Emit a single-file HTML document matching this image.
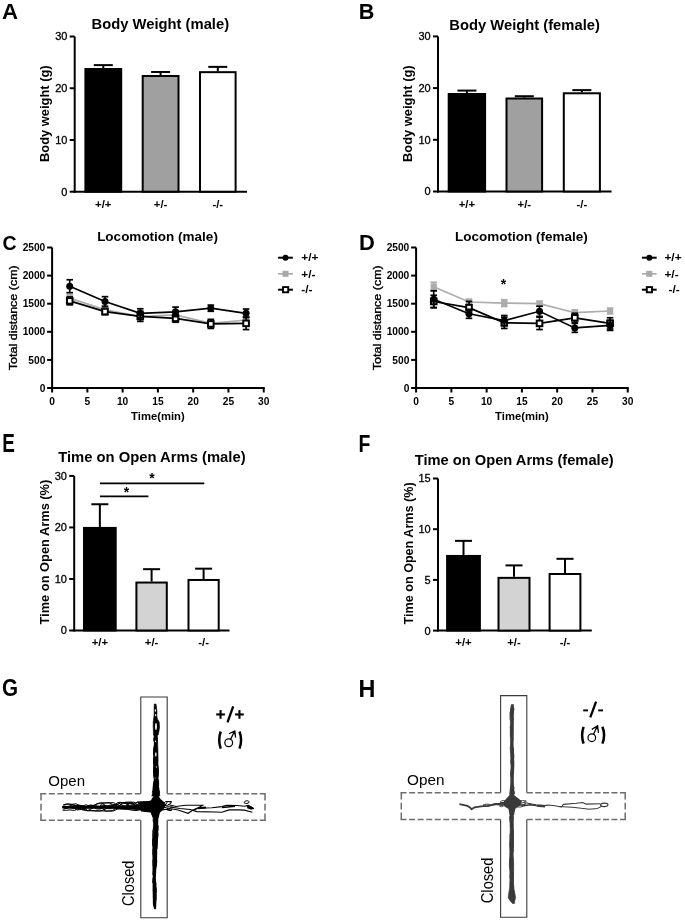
<!DOCTYPE html>
<html><head><meta charset="utf-8"><style>
html,body{margin:0;padding:0;background:#fff;}
svg{display:block;font-family:"Liberation Sans", sans-serif;will-change:transform;}
</style></head><body>
<svg width="685" height="922" viewBox="0 0 685 922">
<rect width="685" height="922" fill="#fff"/>
<line x1="74.7" y1="36.50999999999999" x2="74.7" y2="192.7" stroke="#000" stroke-width="2"/>
<line x1="73.7" y1="191.7" x2="247" y2="191.7" stroke="#000" stroke-width="2"/>
<line x1="69.7" y1="191.7" x2="74.7" y2="191.7" stroke="#000" stroke-width="2"/>
<text x="67.4" y="195.6" font-size="11" font-weight="normal" text-anchor="end" fill="#000" stroke="#000" stroke-width="0.3">0</text>
<line x1="69.7" y1="139.96999999999997" x2="74.7" y2="139.96999999999997" stroke="#000" stroke-width="2"/>
<text x="67.4" y="143.86999999999998" font-size="11" font-weight="normal" text-anchor="end" fill="#000" stroke="#000" stroke-width="0.3">10</text>
<line x1="69.7" y1="88.23999999999998" x2="74.7" y2="88.23999999999998" stroke="#000" stroke-width="2"/>
<text x="67.4" y="92.13999999999999" font-size="11" font-weight="normal" text-anchor="end" fill="#000" stroke="#000" stroke-width="0.3">20</text>
<line x1="69.7" y1="36.50999999999999" x2="74.7" y2="36.50999999999999" stroke="#000" stroke-width="2"/>
<text x="67.4" y="40.40999999999999" font-size="11" font-weight="normal" text-anchor="end" fill="#000" stroke="#000" stroke-width="0.3">30</text>
<line x1="103.30000000000001" y1="68.01356999999999" x2="103.30000000000001" y2="65.11668999999999" stroke="#000" stroke-width="2"/>
<line x1="93.80000000000001" y1="65.11668999999999" x2="112.80000000000001" y2="65.11668999999999" stroke="#000" stroke-width="2"/>
<rect x="85.4" y="69.01356999999999" width="35.8" height="122.68643" fill="#000" stroke="#000" stroke-width="2"/>
<line x1="160.6" y1="74.99712" x2="160.6" y2="71.99678" stroke="#000" stroke-width="2"/>
<line x1="151.1" y1="71.99678" x2="170.1" y2="71.99678" stroke="#000" stroke-width="2"/>
<rect x="142.7" y="75.99712" width="35.80000000000001" height="115.70288" fill="#a0a0a0" stroke="#000" stroke-width="2"/>
<line x1="217.8" y1="71.16909999999999" x2="217.8" y2="66.87550999999999" stroke="#000" stroke-width="2"/>
<line x1="208.3" y1="66.87550999999999" x2="227.3" y2="66.87550999999999" stroke="#000" stroke-width="2"/>
<rect x="200" y="72.16909999999999" width="35.599999999999994" height="119.5309" fill="#fff" stroke="#000" stroke-width="2"/>
<text x="160.3" y="29.4" font-size="14.65" font-weight="bold" text-anchor="middle" fill="#000" textLength="137.6" lengthAdjust="spacingAndGlyphs">Body Weight (male)</text>
<text x="48.8" y="113.7" font-size="13.2" font-weight="bold" text-anchor="middle" fill="#000" transform="rotate(-90 48.8 113.7)" textLength="96.6" lengthAdjust="spacingAndGlyphs">Body weight (g)</text>
<text x="103.30000000000001" y="208.2" font-size="10.5" font-weight="bold" text-anchor="middle" fill="#000" transform="translate(103.30000000000001 208.2) scale(1.08 1) translate(-103.30000000000001 -208.2)">+/+</text>
<text x="160.6" y="208.2" font-size="10.5" font-weight="bold" text-anchor="middle" fill="#000" transform="translate(160.6 208.2) scale(1.08 1) translate(-160.6 -208.2)">+/-</text>
<text x="217.8" y="208.2" font-size="10.5" font-weight="bold" text-anchor="middle" fill="#000" transform="translate(217.8 208.2) scale(1.08 1) translate(-217.8 -208.2)">-/-</text>
<line x1="438.0" y1="36.400000000000006" x2="438.0" y2="192.5" stroke="#000" stroke-width="2"/>
<line x1="437.0" y1="191.5" x2="611.6" y2="191.5" stroke="#000" stroke-width="2"/>
<line x1="433.0" y1="191.5" x2="438.0" y2="191.5" stroke="#000" stroke-width="2"/>
<text x="430.7" y="195.4" font-size="11" font-weight="normal" text-anchor="end" fill="#000" stroke="#000" stroke-width="0.3">0</text>
<line x1="433.0" y1="139.8" x2="438.0" y2="139.8" stroke="#000" stroke-width="2"/>
<text x="430.7" y="143.70000000000002" font-size="11" font-weight="normal" text-anchor="end" fill="#000" stroke="#000" stroke-width="0.3">10</text>
<line x1="433.0" y1="88.1" x2="438.0" y2="88.1" stroke="#000" stroke-width="2"/>
<text x="430.7" y="92.0" font-size="11" font-weight="normal" text-anchor="end" fill="#000" stroke="#000" stroke-width="0.3">20</text>
<line x1="433.0" y1="36.400000000000006" x2="438.0" y2="36.400000000000006" stroke="#000" stroke-width="2"/>
<text x="430.7" y="40.300000000000004" font-size="11" font-weight="normal" text-anchor="end" fill="#000" stroke="#000" stroke-width="0.3">30</text>
<line x1="466.9" y1="93.0115" x2="466.9" y2="90.58160000000001" stroke="#000" stroke-width="2"/>
<line x1="457.4" y1="90.58160000000001" x2="476.4" y2="90.58160000000001" stroke="#000" stroke-width="2"/>
<rect x="448.7" y="94.0115" width="36.400000000000034" height="97.4885" fill="#000" stroke="#000" stroke-width="2"/>
<line x1="524.3" y1="97.5094" x2="524.3" y2="96.21690000000001" stroke="#000" stroke-width="2"/>
<line x1="514.8" y1="96.21690000000001" x2="533.8" y2="96.21690000000001" stroke="#000" stroke-width="2"/>
<rect x="506.5" y="98.5094" width="35.60000000000002" height="92.9906" fill="#a0a0a0" stroke="#000" stroke-width="2"/>
<line x1="581.8499999999999" y1="92.2877" x2="581.8499999999999" y2="90.11629999999998" stroke="#000" stroke-width="2"/>
<line x1="572.3499999999999" y1="90.11629999999998" x2="591.3499999999999" y2="90.11629999999998" stroke="#000" stroke-width="2"/>
<rect x="563.8" y="93.2877" width="36.10000000000002" height="98.2123" fill="#fff" stroke="#000" stroke-width="2"/>
<text x="524.6" y="29.6" font-size="14.65" font-weight="bold" text-anchor="middle" fill="#000" textLength="150.5" lengthAdjust="spacingAndGlyphs">Body Weight (female)</text>
<text x="412.1" y="113.7" font-size="13.2" font-weight="bold" text-anchor="middle" fill="#000" transform="rotate(-90 412.1 113.7)" textLength="96.6" lengthAdjust="spacingAndGlyphs">Body weight (g)</text>
<text x="466.9" y="208.2" font-size="10.5" font-weight="bold" text-anchor="middle" fill="#000" transform="translate(466.9 208.2) scale(1.08 1) translate(-466.9 -208.2)">+/+</text>
<text x="524.3" y="208.2" font-size="10.5" font-weight="bold" text-anchor="middle" fill="#000" transform="translate(524.3 208.2) scale(1.08 1) translate(-524.3 -208.2)">+/-</text>
<text x="581.8499999999999" y="208.2" font-size="10.5" font-weight="bold" text-anchor="middle" fill="#000" transform="translate(581.8499999999999 208.2) scale(1.08 1) translate(-581.8499999999999 -208.2)">-/-</text>
<line x1="74.2" y1="475.91" x2="74.2" y2="631.5" stroke="#000" stroke-width="2"/>
<line x1="73.2" y1="630.5" x2="229.5" y2="630.5" stroke="#000" stroke-width="2"/>
<line x1="69.2" y1="630.5" x2="74.2" y2="630.5" stroke="#000" stroke-width="2"/>
<text x="66.9" y="634.4" font-size="11" font-weight="normal" text-anchor="end" fill="#000" stroke="#000" stroke-width="0.3">0</text>
<line x1="69.2" y1="578.97" x2="74.2" y2="578.97" stroke="#000" stroke-width="2"/>
<text x="66.9" y="582.87" font-size="11" font-weight="normal" text-anchor="end" fill="#000" stroke="#000" stroke-width="0.3">10</text>
<line x1="69.2" y1="527.44" x2="74.2" y2="527.44" stroke="#000" stroke-width="2"/>
<text x="66.9" y="531.34" font-size="11" font-weight="normal" text-anchor="end" fill="#000" stroke="#000" stroke-width="0.3">20</text>
<line x1="69.2" y1="475.91" x2="74.2" y2="475.91" stroke="#000" stroke-width="2"/>
<text x="66.9" y="479.81" font-size="11" font-weight="normal" text-anchor="end" fill="#000" stroke="#000" stroke-width="0.3">30</text>
<line x1="99.85" y1="526.9247" x2="99.85" y2="504.2515" stroke="#000" stroke-width="2"/>
<line x1="91.35" y1="504.2515" x2="108.35" y2="504.2515" stroke="#000" stroke-width="2"/>
<rect x="84.0" y="527.9247" width="31.700000000000003" height="102.57529999999997" fill="#000" stroke="#000" stroke-width="2"/>
<line x1="151.60000000000002" y1="581.5465" x2="151.60000000000002" y2="569.1793" stroke="#000" stroke-width="2"/>
<line x1="143.10000000000002" y1="569.1793" x2="160.10000000000002" y2="569.1793" stroke="#000" stroke-width="2"/>
<rect x="136.4" y="582.5465" width="30.400000000000006" height="47.95349999999996" fill="#d3d3d3" stroke="#000" stroke-width="2"/>
<line x1="203.6" y1="578.97" x2="203.6" y2="568.664" stroke="#000" stroke-width="2"/>
<line x1="195.1" y1="568.664" x2="212.1" y2="568.664" stroke="#000" stroke-width="2"/>
<rect x="188.5" y="579.97" width="30.19999999999999" height="50.52999999999997" fill="#fff" stroke="#000" stroke-width="2"/>
<text x="151.9" y="462.0" font-size="14.7" font-weight="bold" text-anchor="middle" fill="#000" textLength="187.4" lengthAdjust="spacingAndGlyphs">Time on Open Arms (male)</text>
<text x="48.6" y="552.1" font-size="12.7" font-weight="bold" text-anchor="middle" fill="#000" transform="rotate(-90 48.6 552.1)" textLength="144.8" lengthAdjust="spacingAndGlyphs">Time on Open Arms (%)</text>
<text x="99.85" y="646.5" font-size="10.5" font-weight="bold" text-anchor="middle" fill="#000" transform="translate(99.85 646.5) scale(1.08 1) translate(-99.85 -646.5)">+/+</text>
<text x="151.60000000000002" y="646.5" font-size="10.5" font-weight="bold" text-anchor="middle" fill="#000" transform="translate(151.60000000000002 646.5) scale(1.08 1) translate(-151.60000000000002 -646.5)">+/-</text>
<text x="203.6" y="646.5" font-size="10.5" font-weight="bold" text-anchor="middle" fill="#000" transform="translate(203.6 646.5) scale(1.08 1) translate(-203.6 -646.5)">-/-</text>
<line x1="99.9" y1="483.4" x2="204.3" y2="483.4" stroke="#000" stroke-width="1.6"/>
<line x1="99.9" y1="496.4" x2="148.4" y2="496.4" stroke="#000" stroke-width="1.6"/>
<text x="152.0" y="482.6" font-size="14" font-weight="bold" text-anchor="middle" fill="#000">*</text>
<text x="126.6" y="497.0" font-size="14" font-weight="bold" text-anchor="middle" fill="#000">*</text>
<line x1="438.0" y1="478.5" x2="438.0" y2="631.6" stroke="#000" stroke-width="2"/>
<line x1="437.0" y1="630.6" x2="591.8" y2="630.6" stroke="#000" stroke-width="2"/>
<line x1="433.0" y1="630.6" x2="438.0" y2="630.6" stroke="#000" stroke-width="2"/>
<text x="430.7" y="634.5" font-size="11" font-weight="normal" text-anchor="end" fill="#000" stroke="#000" stroke-width="0.3">0</text>
<line x1="433.0" y1="579.9" x2="438.0" y2="579.9" stroke="#000" stroke-width="2"/>
<text x="430.7" y="583.8" font-size="11" font-weight="normal" text-anchor="end" fill="#000" stroke="#000" stroke-width="0.3">5</text>
<line x1="433.0" y1="529.2" x2="438.0" y2="529.2" stroke="#000" stroke-width="2"/>
<text x="430.7" y="533.1" font-size="11" font-weight="normal" text-anchor="end" fill="#000" stroke="#000" stroke-width="0.3">10</text>
<line x1="433.0" y1="478.5" x2="438.0" y2="478.5" stroke="#000" stroke-width="2"/>
<text x="430.7" y="482.4" font-size="11" font-weight="normal" text-anchor="end" fill="#000" stroke="#000" stroke-width="0.3">15</text>
<line x1="463.5" y1="554.9556" x2="463.5" y2="540.861" stroke="#000" stroke-width="2"/>
<line x1="455.0" y1="540.861" x2="472.0" y2="540.861" stroke="#000" stroke-width="2"/>
<rect x="447.1" y="555.9556" width="32.799999999999955" height="74.64440000000002" fill="#000" stroke="#000" stroke-width="2"/>
<line x1="514.0" y1="576.8580000000001" x2="514.0" y2="565.3998" stroke="#000" stroke-width="2"/>
<line x1="505.5" y1="565.3998" x2="522.5" y2="565.3998" stroke="#000" stroke-width="2"/>
<rect x="498.5" y="577.8580000000001" width="31.0" height="52.74199999999996" fill="#d3d3d3" stroke="#000" stroke-width="2"/>
<line x1="565.0" y1="573.0048" x2="565.0" y2="558.8088" stroke="#000" stroke-width="2"/>
<line x1="556.5" y1="558.8088" x2="573.5" y2="558.8088" stroke="#000" stroke-width="2"/>
<rect x="549.6" y="574.0048" width="30.799999999999955" height="56.59519999999998" fill="#fff" stroke="#000" stroke-width="2"/>
<text x="514.2" y="465.2" font-size="14.6" font-weight="bold" text-anchor="middle" fill="#000" textLength="199.0" lengthAdjust="spacingAndGlyphs">Time on Open Arms (female)</text>
<text x="413.3" y="553.4" font-size="12.5" font-weight="bold" text-anchor="middle" fill="#000" transform="rotate(-90 413.3 553.4)" textLength="142.0" lengthAdjust="spacingAndGlyphs">Time on Open Arms (%)</text>
<text x="463.5" y="646.5" font-size="10.5" font-weight="bold" text-anchor="middle" fill="#000" transform="translate(463.5 646.5) scale(1.08 1) translate(-463.5 -646.5)">+/+</text>
<text x="514.0" y="646.5" font-size="10.5" font-weight="bold" text-anchor="middle" fill="#000" transform="translate(514.0 646.5) scale(1.08 1) translate(-514.0 -646.5)">+/-</text>
<text x="565.0" y="646.5" font-size="10.5" font-weight="bold" text-anchor="middle" fill="#000" transform="translate(565.0 646.5) scale(1.08 1) translate(-565.0 -646.5)">-/-</text>
<line x1="52.1" y1="247.5" x2="52.1" y2="389.0" stroke="#000" stroke-width="2"/>
<line x1="51.1" y1="388.0" x2="264.72" y2="388.0" stroke="#000" stroke-width="2"/>
<line x1="47.1" y1="388.0" x2="52.1" y2="388.0" stroke="#000" stroke-width="2"/>
<text x="45.300000000000004" y="391.6" font-size="10.2" font-weight="bold" text-anchor="end" fill="#000">0</text>
<line x1="47.1" y1="359.9" x2="52.1" y2="359.9" stroke="#000" stroke-width="2"/>
<text x="45.300000000000004" y="363.5" font-size="10.2" font-weight="bold" text-anchor="end" fill="#000">500</text>
<line x1="47.1" y1="331.8" x2="52.1" y2="331.8" stroke="#000" stroke-width="2"/>
<text x="45.300000000000004" y="335.40000000000003" font-size="10.2" font-weight="bold" text-anchor="end" fill="#000">1000</text>
<line x1="47.1" y1="303.7" x2="52.1" y2="303.7" stroke="#000" stroke-width="2"/>
<text x="45.300000000000004" y="307.3" font-size="10.2" font-weight="bold" text-anchor="end" fill="#000">1500</text>
<line x1="47.1" y1="275.6" x2="52.1" y2="275.6" stroke="#000" stroke-width="2"/>
<text x="45.300000000000004" y="279.20000000000005" font-size="10.2" font-weight="bold" text-anchor="end" fill="#000">2000</text>
<line x1="47.1" y1="247.5" x2="52.1" y2="247.5" stroke="#000" stroke-width="2"/>
<text x="45.300000000000004" y="251.1" font-size="10.2" font-weight="bold" text-anchor="end" fill="#000">2500</text>
<line x1="52.1" y1="388.0" x2="52.1" y2="392.5" stroke="#000" stroke-width="2"/>
<text x="52.1" y="404.7" font-size="10.2" font-weight="bold" text-anchor="middle" fill="#000">0</text>
<line x1="87.37" y1="388.0" x2="87.37" y2="392.5" stroke="#000" stroke-width="2"/>
<text x="87.37" y="404.7" font-size="10.2" font-weight="bold" text-anchor="middle" fill="#000">5</text>
<line x1="122.64000000000001" y1="388.0" x2="122.64000000000001" y2="392.5" stroke="#000" stroke-width="2"/>
<text x="122.64000000000001" y="404.7" font-size="10.2" font-weight="bold" text-anchor="middle" fill="#000">10</text>
<line x1="157.91" y1="388.0" x2="157.91" y2="392.5" stroke="#000" stroke-width="2"/>
<text x="157.91" y="404.7" font-size="10.2" font-weight="bold" text-anchor="middle" fill="#000">15</text>
<line x1="193.18" y1="388.0" x2="193.18" y2="392.5" stroke="#000" stroke-width="2"/>
<text x="193.18" y="404.7" font-size="10.2" font-weight="bold" text-anchor="middle" fill="#000">20</text>
<line x1="228.45" y1="388.0" x2="228.45" y2="392.5" stroke="#000" stroke-width="2"/>
<text x="228.45" y="404.7" font-size="10.2" font-weight="bold" text-anchor="middle" fill="#000">25</text>
<line x1="263.72" y1="388.0" x2="263.72" y2="392.5" stroke="#000" stroke-width="2"/>
<text x="263.72" y="404.7" font-size="10.2" font-weight="bold" text-anchor="middle" fill="#000">30</text>
<text x="157.9" y="419.7" font-size="10.9" font-weight="bold" text-anchor="middle" fill="#000" textLength="53.6" lengthAdjust="spacingAndGlyphs">Time(min)</text>
<text x="157.5" y="240.7" font-size="13.5" font-weight="bold" text-anchor="middle" fill="#000">Locomotion (male)</text>
<text x="17.5" y="317.7" font-size="10.6" font-weight="normal" text-anchor="middle" fill="#000" transform="rotate(-90 17.5 317.7)" stroke="#000" stroke-width="0.35" textLength="105" lengthAdjust="spacingAndGlyphs">Total distance (cm)</text>
<line x1="69.735" y1="294.70799999999997" x2="69.735" y2="301.452" stroke="#acacac" stroke-width="1.6"/>
<line x1="66.435" y1="294.70799999999997" x2="73.035" y2="294.70799999999997" stroke="#acacac" stroke-width="1.7"/>
<line x1="66.435" y1="301.452" x2="73.035" y2="301.452" stroke="#acacac" stroke-width="1.7"/>
<line x1="105.005" y1="306.51" x2="105.005" y2="313.254" stroke="#acacac" stroke-width="1.6"/>
<line x1="101.705" y1="306.51" x2="108.30499999999999" y2="306.51" stroke="#acacac" stroke-width="1.7"/>
<line x1="101.705" y1="313.254" x2="108.30499999999999" y2="313.254" stroke="#acacac" stroke-width="1.7"/>
<line x1="140.275" y1="312.69199999999995" x2="140.275" y2="320.56" stroke="#acacac" stroke-width="1.6"/>
<line x1="136.975" y1="312.69199999999995" x2="143.57500000000002" y2="312.69199999999995" stroke="#acacac" stroke-width="1.7"/>
<line x1="136.975" y1="320.56" x2="143.57500000000002" y2="320.56" stroke="#acacac" stroke-width="1.7"/>
<line x1="175.54500000000002" y1="311.568" x2="175.54500000000002" y2="318.312" stroke="#acacac" stroke-width="1.6"/>
<line x1="172.245" y1="311.568" x2="178.84500000000003" y2="311.568" stroke="#acacac" stroke-width="1.7"/>
<line x1="172.245" y1="318.312" x2="178.84500000000003" y2="318.312" stroke="#acacac" stroke-width="1.7"/>
<line x1="210.815" y1="319.436" x2="210.815" y2="327.30400000000003" stroke="#acacac" stroke-width="1.6"/>
<line x1="207.515" y1="319.436" x2="214.115" y2="319.436" stroke="#acacac" stroke-width="1.7"/>
<line x1="207.515" y1="327.30400000000003" x2="214.115" y2="327.30400000000003" stroke="#acacac" stroke-width="1.7"/>
<line x1="246.085" y1="316.626" x2="246.085" y2="323.37" stroke="#acacac" stroke-width="1.6"/>
<line x1="242.785" y1="316.626" x2="249.38500000000002" y2="316.626" stroke="#acacac" stroke-width="1.7"/>
<line x1="242.785" y1="323.37" x2="249.38500000000002" y2="323.37" stroke="#acacac" stroke-width="1.7"/>
<polyline points="69.7,298.1 105.0,309.9 140.3,316.6 175.5,314.9 210.8,323.4 246.1,320.0" fill="none" stroke="#acacac" stroke-width="1.7"/>
<rect x="66.635" y="294.78" width="6.2" height="6.6" fill="#acacac" stroke="none" stroke-width="0"/>
<rect x="101.905" y="306.582" width="6.2" height="6.6" fill="#acacac" stroke="none" stroke-width="0"/>
<rect x="137.175" y="313.32599999999996" width="6.2" height="6.6" fill="#acacac" stroke="none" stroke-width="0"/>
<rect x="172.44500000000002" y="311.64" width="6.2" height="6.6" fill="#acacac" stroke="none" stroke-width="0"/>
<rect x="207.715" y="320.07" width="6.2" height="6.6" fill="#acacac" stroke="none" stroke-width="0"/>
<rect x="242.985" y="316.698" width="6.2" height="6.6" fill="#acacac" stroke="none" stroke-width="0"/>
<line x1="69.735" y1="296.95599999999996" x2="69.735" y2="304.824" stroke="#000" stroke-width="1.6"/>
<line x1="66.435" y1="296.95599999999996" x2="73.035" y2="296.95599999999996" stroke="#000" stroke-width="1.7"/>
<line x1="66.435" y1="304.824" x2="73.035" y2="304.824" stroke="#000" stroke-width="1.7"/>
<line x1="105.005" y1="308.477" x2="105.005" y2="314.659" stroke="#000" stroke-width="1.6"/>
<line x1="101.705" y1="308.477" x2="108.30499999999999" y2="308.477" stroke="#000" stroke-width="1.7"/>
<line x1="101.705" y1="314.659" x2="108.30499999999999" y2="314.659" stroke="#000" stroke-width="1.7"/>
<line x1="140.275" y1="311.28700000000003" x2="140.275" y2="321.403" stroke="#000" stroke-width="1.6"/>
<line x1="136.975" y1="311.28700000000003" x2="143.57500000000002" y2="311.28700000000003" stroke="#000" stroke-width="1.7"/>
<line x1="136.975" y1="321.403" x2="143.57500000000002" y2="321.403" stroke="#000" stroke-width="1.7"/>
<line x1="175.54500000000002" y1="314.378" x2="175.54500000000002" y2="322.24600000000004" stroke="#000" stroke-width="1.6"/>
<line x1="172.245" y1="314.378" x2="178.84500000000003" y2="314.378" stroke="#000" stroke-width="1.7"/>
<line x1="172.245" y1="322.24600000000004" x2="178.84500000000003" y2="322.24600000000004" stroke="#000" stroke-width="1.7"/>
<line x1="210.815" y1="319.43600000000004" x2="210.815" y2="328.428" stroke="#000" stroke-width="1.6"/>
<line x1="207.515" y1="319.43600000000004" x2="214.115" y2="319.43600000000004" stroke="#000" stroke-width="1.7"/>
<line x1="207.515" y1="328.428" x2="214.115" y2="328.428" stroke="#000" stroke-width="1.7"/>
<line x1="246.085" y1="317.188" x2="246.085" y2="329.552" stroke="#000" stroke-width="1.6"/>
<line x1="242.785" y1="317.188" x2="249.38500000000002" y2="317.188" stroke="#000" stroke-width="1.7"/>
<line x1="242.785" y1="329.552" x2="249.38500000000002" y2="329.552" stroke="#000" stroke-width="1.7"/>
<polyline points="69.7,300.9 105.0,311.6 140.3,316.3 175.5,318.3 210.8,323.9 246.1,323.4" fill="none" stroke="#000" stroke-width="1.7"/>
<rect x="66.935" y="298.09" width="5.6" height="5.6" fill="#fff" stroke="#000" stroke-width="2.0"/>
<rect x="102.205" y="308.768" width="5.6" height="5.6" fill="#fff" stroke="#000" stroke-width="2.0"/>
<rect x="137.475" y="313.545" width="5.6" height="5.6" fill="#fff" stroke="#000" stroke-width="2.0"/>
<rect x="172.745" y="315.512" width="5.6" height="5.6" fill="#fff" stroke="#000" stroke-width="2.0"/>
<rect x="208.015" y="321.132" width="5.6" height="5.6" fill="#fff" stroke="#000" stroke-width="2.0"/>
<rect x="243.285" y="320.57" width="5.6" height="5.6" fill="#fff" stroke="#000" stroke-width="2.0"/>
<line x1="69.735" y1="279.7588" x2="69.735" y2="292.68480000000005" stroke="#000" stroke-width="1.6"/>
<line x1="66.435" y1="279.7588" x2="73.035" y2="279.7588" stroke="#000" stroke-width="1.7"/>
<line x1="66.435" y1="292.68480000000005" x2="73.035" y2="292.68480000000005" stroke="#000" stroke-width="1.7"/>
<line x1="105.005" y1="296.675" x2="105.005" y2="306.229" stroke="#000" stroke-width="1.6"/>
<line x1="101.705" y1="296.675" x2="108.30499999999999" y2="296.675" stroke="#000" stroke-width="1.7"/>
<line x1="101.705" y1="306.229" x2="108.30499999999999" y2="306.229" stroke="#000" stroke-width="1.7"/>
<line x1="140.275" y1="308.75800000000004" x2="140.275" y2="317.75" stroke="#000" stroke-width="1.6"/>
<line x1="136.975" y1="308.75800000000004" x2="143.57500000000002" y2="308.75800000000004" stroke="#000" stroke-width="1.7"/>
<line x1="136.975" y1="317.75" x2="143.57500000000002" y2="317.75" stroke="#000" stroke-width="1.7"/>
<line x1="175.54500000000002" y1="307.072" x2="175.54500000000002" y2="316.626" stroke="#000" stroke-width="1.6"/>
<line x1="172.245" y1="307.072" x2="178.84500000000003" y2="307.072" stroke="#000" stroke-width="1.7"/>
<line x1="172.245" y1="316.626" x2="178.84500000000003" y2="316.626" stroke="#000" stroke-width="1.7"/>
<line x1="210.815" y1="305.105" x2="210.815" y2="311.28700000000003" stroke="#000" stroke-width="1.6"/>
<line x1="207.515" y1="305.105" x2="214.115" y2="305.105" stroke="#000" stroke-width="1.7"/>
<line x1="207.515" y1="311.28700000000003" x2="214.115" y2="311.28700000000003" stroke="#000" stroke-width="1.7"/>
<line x1="246.085" y1="309.03900000000004" x2="246.085" y2="317.469" stroke="#000" stroke-width="1.6"/>
<line x1="242.785" y1="309.03900000000004" x2="249.38500000000002" y2="309.03900000000004" stroke="#000" stroke-width="1.7"/>
<line x1="242.785" y1="317.469" x2="249.38500000000002" y2="317.469" stroke="#000" stroke-width="1.7"/>
<polyline points="69.7,286.2 105.0,301.5 140.3,313.3 175.5,311.8 210.8,308.2 246.1,313.3" fill="none" stroke="#000" stroke-width="1.7"/>
<circle cx="69.7" cy="286.2" r="3.5" fill="#000"/>
<circle cx="105.0" cy="301.5" r="3.5" fill="#000"/>
<circle cx="140.3" cy="313.3" r="3.5" fill="#000"/>
<circle cx="175.5" cy="311.8" r="3.5" fill="#000"/>
<circle cx="210.8" cy="308.2" r="3.5" fill="#000"/>
<circle cx="246.1" cy="313.3" r="3.5" fill="#000"/>
<line x1="278.1" y1="257.7" x2="292.90000000000003" y2="257.7" stroke="#000" stroke-width="2"/>
<circle cx="285.5" cy="257.7" r="3"/>
<line x1="278.1" y1="273.8" x2="292.90000000000003" y2="273.8" stroke="#a8a8a8" stroke-width="1.6"/>
<rect x="282.5" y="270.8" width="6" height="6" fill="#a8a8a8" stroke="none" stroke-width="0"/>
<line x1="278.1" y1="289.7" x2="292.90000000000003" y2="289.7" stroke="#000" stroke-width="2"/>
<rect x="283.0" y="287.09999999999997" width="5.2" height="5.2" fill="#fff" stroke="#000" stroke-width="1.9"/>
<text x="301.3" y="261.2" font-size="11" font-weight="bold" text-anchor="start" fill="#000" transform="translate(301.3 261.2) scale(1.08 1) translate(-301.3 -261.2)">+/+</text>
<text x="301.3" y="277.6" font-size="11" font-weight="bold" text-anchor="start" fill="#000" transform="translate(301.3 277.6) scale(1.08 1) translate(-301.3 -277.6)">+/-</text>
<text x="301.3" y="293.5" font-size="11" font-weight="bold" text-anchor="start" fill="#000" transform="translate(301.3 293.5) scale(1.08 1) translate(-301.3 -293.5)">-/-</text>
<line x1="416.1" y1="247.5" x2="416.1" y2="389.0" stroke="#000" stroke-width="2"/>
<line x1="415.1" y1="388.0" x2="628.72" y2="388.0" stroke="#000" stroke-width="2"/>
<line x1="411.1" y1="388.0" x2="416.1" y2="388.0" stroke="#000" stroke-width="2"/>
<text x="409.3" y="391.6" font-size="10.2" font-weight="bold" text-anchor="end" fill="#000">0</text>
<line x1="411.1" y1="359.9" x2="416.1" y2="359.9" stroke="#000" stroke-width="2"/>
<text x="409.3" y="363.5" font-size="10.2" font-weight="bold" text-anchor="end" fill="#000">500</text>
<line x1="411.1" y1="331.8" x2="416.1" y2="331.8" stroke="#000" stroke-width="2"/>
<text x="409.3" y="335.40000000000003" font-size="10.2" font-weight="bold" text-anchor="end" fill="#000">1000</text>
<line x1="411.1" y1="303.7" x2="416.1" y2="303.7" stroke="#000" stroke-width="2"/>
<text x="409.3" y="307.3" font-size="10.2" font-weight="bold" text-anchor="end" fill="#000">1500</text>
<line x1="411.1" y1="275.6" x2="416.1" y2="275.6" stroke="#000" stroke-width="2"/>
<text x="409.3" y="279.20000000000005" font-size="10.2" font-weight="bold" text-anchor="end" fill="#000">2000</text>
<line x1="411.1" y1="247.5" x2="416.1" y2="247.5" stroke="#000" stroke-width="2"/>
<text x="409.3" y="251.1" font-size="10.2" font-weight="bold" text-anchor="end" fill="#000">2500</text>
<line x1="416.1" y1="388.0" x2="416.1" y2="392.5" stroke="#000" stroke-width="2"/>
<text x="416.1" y="404.7" font-size="10.2" font-weight="bold" text-anchor="middle" fill="#000">0</text>
<line x1="451.37" y1="388.0" x2="451.37" y2="392.5" stroke="#000" stroke-width="2"/>
<text x="451.37" y="404.7" font-size="10.2" font-weight="bold" text-anchor="middle" fill="#000">5</text>
<line x1="486.64000000000004" y1="388.0" x2="486.64000000000004" y2="392.5" stroke="#000" stroke-width="2"/>
<text x="486.64000000000004" y="404.7" font-size="10.2" font-weight="bold" text-anchor="middle" fill="#000">10</text>
<line x1="521.9100000000001" y1="388.0" x2="521.9100000000001" y2="392.5" stroke="#000" stroke-width="2"/>
<text x="521.9100000000001" y="404.7" font-size="10.2" font-weight="bold" text-anchor="middle" fill="#000">15</text>
<line x1="557.1800000000001" y1="388.0" x2="557.1800000000001" y2="392.5" stroke="#000" stroke-width="2"/>
<text x="557.1800000000001" y="404.7" font-size="10.2" font-weight="bold" text-anchor="middle" fill="#000">20</text>
<line x1="592.45" y1="388.0" x2="592.45" y2="392.5" stroke="#000" stroke-width="2"/>
<text x="592.45" y="404.7" font-size="10.2" font-weight="bold" text-anchor="middle" fill="#000">25</text>
<line x1="627.72" y1="388.0" x2="627.72" y2="392.5" stroke="#000" stroke-width="2"/>
<text x="627.72" y="404.7" font-size="10.2" font-weight="bold" text-anchor="middle" fill="#000">30</text>
<text x="521.9" y="419.7" font-size="10.9" font-weight="bold" text-anchor="middle" fill="#000" textLength="53.6" lengthAdjust="spacingAndGlyphs">Time(min)</text>
<text x="521.4" y="240.7" font-size="13.5" font-weight="bold" text-anchor="middle" fill="#000">Locomotion (female)</text>
<text x="381.5" y="317.7" font-size="10.6" font-weight="normal" text-anchor="middle" fill="#000" transform="rotate(-90 381.5 317.7)" stroke="#000" stroke-width="0.35" textLength="105" lengthAdjust="spacingAndGlyphs">Total distance (cm)</text>
<line x1="433.735" y1="282.34400000000005" x2="433.735" y2="291.336" stroke="#acacac" stroke-width="1.6"/>
<line x1="430.435" y1="282.34400000000005" x2="437.035" y2="282.34400000000005" stroke="#acacac" stroke-width="1.7"/>
<line x1="430.435" y1="291.336" x2="437.035" y2="291.336" stroke="#acacac" stroke-width="1.7"/>
<line x1="469.005" y1="299.204" x2="469.005" y2="304.824" stroke="#acacac" stroke-width="1.6"/>
<line x1="465.705" y1="299.204" x2="472.305" y2="299.204" stroke="#acacac" stroke-width="1.7"/>
<line x1="465.705" y1="304.824" x2="472.305" y2="304.824" stroke="#acacac" stroke-width="1.7"/>
<line x1="504.27500000000003" y1="299.766" x2="504.27500000000003" y2="306.51000000000005" stroke="#acacac" stroke-width="1.6"/>
<line x1="500.975" y1="299.766" x2="507.57500000000005" y2="299.766" stroke="#acacac" stroke-width="1.7"/>
<line x1="500.975" y1="306.51000000000005" x2="507.57500000000005" y2="306.51000000000005" stroke="#acacac" stroke-width="1.7"/>
<line x1="539.5450000000001" y1="301.452" x2="539.5450000000001" y2="305.948" stroke="#acacac" stroke-width="1.6"/>
<line x1="536.2450000000001" y1="301.452" x2="542.845" y2="301.452" stroke="#acacac" stroke-width="1.7"/>
<line x1="536.2450000000001" y1="305.948" x2="542.845" y2="305.948" stroke="#acacac" stroke-width="1.7"/>
<line x1="574.815" y1="309.882" x2="574.815" y2="315.502" stroke="#acacac" stroke-width="1.6"/>
<line x1="571.5150000000001" y1="309.882" x2="578.115" y2="309.882" stroke="#acacac" stroke-width="1.7"/>
<line x1="571.5150000000001" y1="315.502" x2="578.115" y2="315.502" stroke="#acacac" stroke-width="1.7"/>
<line x1="610.085" y1="308.19599999999997" x2="610.085" y2="313.816" stroke="#acacac" stroke-width="1.6"/>
<line x1="606.7850000000001" y1="308.19599999999997" x2="613.385" y2="308.19599999999997" stroke="#acacac" stroke-width="1.7"/>
<line x1="606.7850000000001" y1="313.816" x2="613.385" y2="313.816" stroke="#acacac" stroke-width="1.7"/>
<polyline points="433.7,286.8 469.0,302.0 504.3,303.1 539.5,303.7 574.8,312.7 610.1,311.0" fill="none" stroke="#acacac" stroke-width="1.7"/>
<rect x="430.635" y="283.54" width="6.2" height="6.6" fill="#acacac" stroke="none" stroke-width="0"/>
<rect x="465.905" y="298.714" width="6.2" height="6.6" fill="#acacac" stroke="none" stroke-width="0"/>
<rect x="501.175" y="299.838" width="6.2" height="6.6" fill="#acacac" stroke="none" stroke-width="0"/>
<rect x="536.445" y="300.4" width="6.2" height="6.6" fill="#acacac" stroke="none" stroke-width="0"/>
<rect x="571.715" y="309.392" width="6.2" height="6.6" fill="#acacac" stroke="none" stroke-width="0"/>
<rect x="606.985" y="307.70599999999996" width="6.2" height="6.6" fill="#acacac" stroke="none" stroke-width="0"/>
<line x1="433.735" y1="295.27" x2="433.735" y2="307.634" stroke="#000" stroke-width="1.6"/>
<line x1="430.435" y1="295.27" x2="437.035" y2="295.27" stroke="#000" stroke-width="1.7"/>
<line x1="430.435" y1="307.634" x2="437.035" y2="307.634" stroke="#000" stroke-width="1.7"/>
<line x1="469.005" y1="301.452" x2="469.005" y2="313.81600000000003" stroke="#000" stroke-width="1.6"/>
<line x1="465.705" y1="301.452" x2="472.305" y2="301.452" stroke="#000" stroke-width="1.7"/>
<line x1="465.705" y1="313.81600000000003" x2="472.305" y2="313.81600000000003" stroke="#000" stroke-width="1.7"/>
<line x1="504.27500000000003" y1="317.188" x2="504.27500000000003" y2="328.428" stroke="#000" stroke-width="1.6"/>
<line x1="500.975" y1="317.188" x2="507.57500000000005" y2="317.188" stroke="#000" stroke-width="1.7"/>
<line x1="500.975" y1="328.428" x2="507.57500000000005" y2="328.428" stroke="#000" stroke-width="1.7"/>
<line x1="539.5450000000001" y1="317.188" x2="539.5450000000001" y2="329.552" stroke="#000" stroke-width="1.6"/>
<line x1="536.2450000000001" y1="317.188" x2="542.845" y2="317.188" stroke="#000" stroke-width="1.7"/>
<line x1="536.2450000000001" y1="329.552" x2="542.845" y2="329.552" stroke="#000" stroke-width="1.7"/>
<line x1="574.815" y1="313.254" x2="574.815" y2="322.246" stroke="#000" stroke-width="1.6"/>
<line x1="571.5150000000001" y1="313.254" x2="578.115" y2="313.254" stroke="#000" stroke-width="1.7"/>
<line x1="571.5150000000001" y1="322.246" x2="578.115" y2="322.246" stroke="#000" stroke-width="1.7"/>
<line x1="610.085" y1="317.75" x2="610.085" y2="328.99" stroke="#000" stroke-width="1.6"/>
<line x1="606.7850000000001" y1="317.75" x2="613.385" y2="317.75" stroke="#000" stroke-width="1.7"/>
<line x1="606.7850000000001" y1="328.99" x2="613.385" y2="328.99" stroke="#000" stroke-width="1.7"/>
<polyline points="433.7,301.5 469.0,307.6 504.3,322.8 539.5,323.4 574.8,317.8 610.1,323.4" fill="none" stroke="#000" stroke-width="1.7"/>
<rect x="430.935" y="298.652" width="5.6" height="5.6" fill="#fff" stroke="#000" stroke-width="2.0"/>
<rect x="466.205" y="304.834" width="5.6" height="5.6" fill="#fff" stroke="#000" stroke-width="2.0"/>
<rect x="501.475" y="320.008" width="5.6" height="5.6" fill="#fff" stroke="#000" stroke-width="2.0"/>
<rect x="536.7450000000001" y="320.57" width="5.6" height="5.6" fill="#fff" stroke="#000" stroke-width="2.0"/>
<rect x="572.0150000000001" y="314.95" width="5.6" height="5.6" fill="#fff" stroke="#000" stroke-width="2.0"/>
<rect x="607.2850000000001" y="320.57" width="5.6" height="5.6" fill="#fff" stroke="#000" stroke-width="2.0"/>
<line x1="433.735" y1="290.774" x2="433.735" y2="307.634" stroke="#000" stroke-width="1.6"/>
<line x1="430.435" y1="290.774" x2="437.035" y2="290.774" stroke="#000" stroke-width="1.7"/>
<line x1="430.435" y1="307.634" x2="437.035" y2="307.634" stroke="#000" stroke-width="1.7"/>
<line x1="469.005" y1="309.32000000000005" x2="469.005" y2="318.312" stroke="#000" stroke-width="1.6"/>
<line x1="465.705" y1="309.32000000000005" x2="472.305" y2="309.32000000000005" stroke="#000" stroke-width="1.7"/>
<line x1="465.705" y1="318.312" x2="472.305" y2="318.312" stroke="#000" stroke-width="1.7"/>
<line x1="504.27500000000003" y1="315.502" x2="504.27500000000003" y2="325.618" stroke="#000" stroke-width="1.6"/>
<line x1="500.975" y1="315.502" x2="507.57500000000005" y2="315.502" stroke="#000" stroke-width="1.7"/>
<line x1="500.975" y1="325.618" x2="507.57500000000005" y2="325.618" stroke="#000" stroke-width="1.7"/>
<line x1="539.5450000000001" y1="306.22900000000004" x2="539.5450000000001" y2="316.345" stroke="#000" stroke-width="1.6"/>
<line x1="536.2450000000001" y1="306.22900000000004" x2="542.845" y2="306.22900000000004" stroke="#000" stroke-width="1.7"/>
<line x1="536.2450000000001" y1="316.345" x2="542.845" y2="316.345" stroke="#000" stroke-width="1.7"/>
<line x1="574.815" y1="323.37" x2="574.815" y2="332.36199999999997" stroke="#000" stroke-width="1.6"/>
<line x1="571.5150000000001" y1="323.37" x2="578.115" y2="323.37" stroke="#000" stroke-width="1.7"/>
<line x1="571.5150000000001" y1="332.36199999999997" x2="578.115" y2="332.36199999999997" stroke="#000" stroke-width="1.7"/>
<line x1="610.085" y1="320.279" x2="610.085" y2="330.395" stroke="#000" stroke-width="1.6"/>
<line x1="606.7850000000001" y1="320.279" x2="613.385" y2="320.279" stroke="#000" stroke-width="1.7"/>
<line x1="606.7850000000001" y1="330.395" x2="613.385" y2="330.395" stroke="#000" stroke-width="1.7"/>
<polyline points="433.7,299.2 469.0,313.8 504.3,320.6 539.5,311.3 574.8,327.9 610.1,325.3" fill="none" stroke="#000" stroke-width="1.7"/>
<circle cx="433.7" cy="299.2" r="3.5" fill="#000"/>
<circle cx="469.0" cy="313.8" r="3.5" fill="#000"/>
<circle cx="504.3" cy="320.6" r="3.5" fill="#000"/>
<circle cx="539.5" cy="311.3" r="3.5" fill="#000"/>
<circle cx="574.8" cy="327.9" r="3.5" fill="#000"/>
<circle cx="610.1" cy="325.3" r="3.5" fill="#000"/>
<text x="503.4" y="289.2" font-size="14" font-weight="bold" text-anchor="middle" fill="#000">*</text>
<line x1="641.9" y1="257.7" x2="656.6999999999999" y2="257.7" stroke="#000" stroke-width="2"/>
<circle cx="649.3" cy="257.7" r="3"/>
<line x1="641.9" y1="273.8" x2="656.6999999999999" y2="273.8" stroke="#a8a8a8" stroke-width="1.6"/>
<rect x="646.3" y="270.8" width="6" height="6" fill="#a8a8a8" stroke="none" stroke-width="0"/>
<line x1="641.9" y1="289.7" x2="656.6999999999999" y2="289.7" stroke="#000" stroke-width="2"/>
<rect x="646.8" y="287.09999999999997" width="5.2" height="5.2" fill="#fff" stroke="#000" stroke-width="1.9"/>
<text x="664.4" y="261.2" font-size="11" font-weight="bold" text-anchor="start" fill="#000" transform="translate(664.4 261.2) scale(1.08 1) translate(-664.4 -261.2)">+/+</text>
<text x="664.4" y="277.6" font-size="11" font-weight="bold" text-anchor="start" fill="#000" transform="translate(664.4 277.6) scale(1.08 1) translate(-664.4 -277.6)">+/-</text>
<text x="668.6" y="293.5" font-size="11" font-weight="bold" text-anchor="start" fill="#000" transform="translate(668.6 293.5) scale(1.08 1) translate(-668.6 -293.5)">-/-</text>
<text x="1.9" y="19.1" font-size="22.6" font-weight="bold" text-anchor="start" fill="#000" transform="translate(1.9 19.1) scale(0.985 1) translate(-1.9 -19.1)">A</text>
<text x="358.8" y="18.8" font-size="22.65" font-weight="bold" text-anchor="start" fill="#000" transform="translate(358.8 18.8) scale(0.955 1) translate(-358.8 -18.8)">B</text>
<text x="2.4" y="249.6" font-size="19.5" font-weight="bold" text-anchor="start" fill="#000">C</text>
<text x="359.0" y="249.8" font-size="21.9" font-weight="bold" text-anchor="start" fill="#000">D</text>
<text x="2.2" y="451.7" font-size="25.2" font-weight="bold" text-anchor="start" fill="#000" transform="translate(2.2 451.7) scale(0.75 1) translate(-2.2 -451.7)">E</text>
<text x="358.4" y="451.7" font-size="24.0" font-weight="bold" text-anchor="start" fill="#000" transform="translate(358.4 451.7) scale(0.81 1) translate(-358.4 -451.7)">F</text>
<text x="1.9" y="696.0" font-size="23.5" font-weight="bold" text-anchor="start" fill="#000" transform="translate(1.9 696.0) scale(0.88 1) translate(-1.9 -696.0)">G</text>
<text x="358.6" y="696.7" font-size="23.6" font-weight="bold" text-anchor="start" fill="#000" transform="translate(358.6 696.7) scale(0.99 1) translate(-358.6 -696.7)">H</text>
<path d="M140.8,793.8 V697.0 H167.2 V793.8 M140.8,820.3 V917.8 H167.2 V820.3" fill="none" stroke="#3a3a3a" stroke-width="1.1"/>
<line x1="40.25" y1="793.8" x2="140.8" y2="793.8" stroke="#6e6e6e" stroke-width="1.5" stroke-dasharray="6.0 2.595"/>
<line x1="40.25" y1="820.3" x2="140.8" y2="820.3" stroke="#6e6e6e" stroke-width="1.5" stroke-dasharray="6.0 2.595"/>
<line x1="265.75" y1="793.8" x2="167.2" y2="793.8" stroke="#6e6e6e" stroke-width="1.5" stroke-dasharray="6.0 2.414"/>
<line x1="265.75" y1="820.3" x2="167.2" y2="820.3" stroke="#6e6e6e" stroke-width="1.5" stroke-dasharray="6.0 2.414"/>
<line x1="41.0" y1="793.8" x2="41.0" y2="820.3" stroke="#6e6e6e" stroke-width="1.5" stroke-dasharray="6.8 3.050"/>
<line x1="265.0" y1="793.8" x2="265.0" y2="820.3" stroke="#6e6e6e" stroke-width="1.5" stroke-dasharray="6.8 3.050"/>
<path d="M154.3,704.0 L154.1,708.0 L154.2,712.0 L154.0,716.0 L153.6,719.0 L153.2,722.0 L153.2,727.0 L153.4,731.0 L153.5,735.0 L158.2,735.0 L159.0,731.0 L159.6,727.0 L159.2,722.0 L157.4,719.0 L156.8,716.0 L157.0,712.0 L156.6,708.0 L156.0,704.0 Z" fill="#000" stroke="#000" stroke-width="0.6" stroke-linejoin="round"/>
<path d="M154.4,735.0 L154.2,740.0 L154.2,750.0 L153.9,760.0 L153.9,770.0 L154.1,780.0 L153.4,790.0 L151.9,796.0 L159.9,796.0 L158.6,790.0 L158.1,780.0 L157.9,770.0 L158.1,760.0 L157.9,750.0 L157.5,740.0 L157.3,735.0 Z" fill="#000" stroke="#000" stroke-width="0.6" stroke-linejoin="round"/>
<path d="M154.0,735.0 L154.6,737.2 L154.8,739.2 L156.1,741.4 L156.0,745.0 L155.6,748.1 L153.8,750.9 L155.3,753.0 L156.2,754.8 L155.8,757.1 L154.2,759.7 L156.0,762.0 L154.9,764.3 L154.3,768.4 L153.9,772.2 L154.5,776.0 L156.1,780.2 L156.4,784.1 L156.8,787.4 L159.1,791.0 L159.0,793.2 L158.4,795.1" fill="none" stroke="#000" stroke-width="1.0" stroke-linejoin="round"/>
<path d="M154.6,736.0 L153.8,740.1 L155.3,744.3 L155.3,746.8 L154.5,749.0 L153.7,752.4 L154.4,754.5 L156.4,757.7 L157.2,761.2 L157.7,765.2 L158.3,768.5 L158.3,771.4 L156.7,775.1 L157.4,778.3 L158.5,780.4 L158.6,782.4 L157.9,784.7 L158.9,788.6 L157.0,791.5 L157.1,794.0" fill="none" stroke="#000" stroke-width="1.0" stroke-linejoin="round"/>
<path d="M156.7,736.8 L156.9,739.0 L156.2,742.5 L154.1,746.2 L154.3,748.6 L153.8,751.2 L153.7,753.0 L154.2,755.2 L155.5,757.2 L156.9,759.1 L157.0,762.4 L157.6,766.1 L158.0,768.6 L158.3,772.1 L158.4,775.2 L157.7,778.2 L156.3,781.7 L156.6,784.7 L158.1,786.8 L159.1,790.4 L159.2,794.4" fill="none" stroke="#000" stroke-width="1.0" stroke-linejoin="round"/>
<path d="M153.9,737.6 L154.3,740.4 L155.0,742.9 L154.7,745.7 L153.8,748.1 L153.7,751.8 L153.7,753.7 L154.2,756.9 L153.7,759.2 L153.5,763.0 L154.2,766.7 L154.4,769.5 L155.1,772.1 L154.1,775.6 L155.3,777.5 L154.6,779.9 L153.6,782.9 L153.2,787.0 L153.8,788.9 L153.0,791.8 L154.2,793.6 L151.9,795.4" fill="none" stroke="#000" stroke-width="1.0" stroke-linejoin="round"/>
<path d="M157.1,737.7 L157.2,740.5 L156.7,743.8 L156.1,747.6 L155.9,749.6 L156.3,752.8 L157.1,755.9 L156.6,760.0 L155.5,763.8 L154.3,766.4 L155.3,769.5 L153.8,771.8 L154.8,774.2 L157.1,777.7 L157.9,781.1 L158.7,783.7 L158.6,785.7 L154.6,788.1 L154.7,790.2 L154.3,792.1 L154.4,794.9" fill="none" stroke="#000" stroke-width="1.0" stroke-linejoin="round"/>
<path d="M155.8,736.3 L156.1,739.2 L154.8,742.1 L155.1,746.1 L155.0,749.9 L154.1,752.1 L154.3,754.1 L153.9,757.3 L153.5,761.2 L154.4,764.0 L153.6,768.1 L153.5,770.0 L153.6,773.6 L153.9,777.3 L155.3,780.9 L154.2,784.9 L153.2,787.7 L152.9,790.6 L152.3,792.7" fill="none" stroke="#000" stroke-width="1.0" stroke-linejoin="round"/>
<ellipse cx="155.4" cy="710.5" rx="0.6" ry="1.2" fill="#fff"/>
<ellipse cx="155.6" cy="715.2" rx="0.6" ry="1.1" fill="#fff"/>
<ellipse cx="156.0" cy="726.5" rx="0.9" ry="3.6" fill="#fff"/>
<ellipse cx="155.6" cy="741.2" rx="0.6" ry="0.8" fill="#fff"/>
<ellipse cx="155.8" cy="754.5" rx="0.7" ry="2.2" fill="#fff"/>
<ellipse cx="156.3" cy="767" rx="0.5" ry="0.7" fill="#fff"/>
<ellipse cx="155.2" cy="778" rx="0.5" ry="0.6" fill="#fff"/>
<path d="M156,792 L160.5,799 L164,802 L165.5,806 L163,810 L160,812.5 L158.5,818 L152.8,818 L150.5,812.5 L141,811.5 L139,802.8 L150.8,800.5 Z" fill="#000"/>
<path d="M159.4,806.9 L160.9,809.3 L163.4,809.8 L166.0,809.4 L168.7,810.5 L171.7,810.5" fill="none" stroke="#000" stroke-width="1.0" stroke-linejoin="round"/>
<path d="M160.2,803.0 L162.7,803.7 L166.0,801.5 L168.3,801.5 L171.3,802.5" fill="none" stroke="#000" stroke-width="1.0" stroke-linejoin="round"/>
<path d="M160.2,806.1 L161.9,806.0 L163.9,807.0 L167.0,808.1 L170.3,810.5 L171.9,809.2" fill="none" stroke="#000" stroke-width="1.0" stroke-linejoin="round"/>
<path d="M159.3,810.5 L161.0,809.8 L163.7,809.4 L166.9,809.4 L168.6,809.6 L171.2,810.3" fill="none" stroke="#000" stroke-width="1.0" stroke-linejoin="round"/>
<path d="M160.8,805.4 L163.1,804.9 L165.7,804.4 L167.6,801.5 L169.2,801.5 L171.8,801.5" fill="none" stroke="#000" stroke-width="1.0" stroke-linejoin="round"/>
<path d="M161.0,809.9 L162.7,808.9 L164.7,805.1 L167.4,806.6 L170.3,807.0 L173.0,807.1" fill="none" stroke="#000" stroke-width="1.0" stroke-linejoin="round"/>
<path d="M160.6,806.1 L163.0,802.3 L165.6,805.0 L167.2,805.4 L169.5,804.1 L171.5,802.8" fill="none" stroke="#000" stroke-width="1.0" stroke-linejoin="round"/>
<path d="M153.5,816.0 L153.6,820.0 L153.3,830.0 L153.1,840.0 L153.3,850.0 L153.4,860.0 L153.4,870.0 L153.0,880.0 L152.9,890.0 L153.2,898.0 L153.3,904.0 L154.4,909.0 L155.6,909.0 L156.0,904.0 L155.7,898.0 L156.1,890.0 L155.1,880.0 L155.3,870.0 L156.6,860.0 L156.9,850.0 L157.1,840.0 L157.7,830.0 L158.0,820.0 L158.1,816.0 Z" fill="#000" stroke="#000" stroke-width="0.6" stroke-linejoin="round"/>
<path d="M153.5,816.2 L155.7,819.2 L156.6,822.8 L157.2,826.6 L158.1,829.6 L157.2,832.3 L157.2,834.1 L156.5,835.9 L157.4,839.5 L155.8,843.6 L156.2,845.9 L156.4,850.0 L156.4,852.1 L156.5,854.0 L156.2,855.9 L156.5,858.4 L156.7,862.5 L156.2,866.0 L154.9,869.2 L154.4,872.4 L154.1,874.8 L154.4,877.5 L154.2,881.7 L154.5,884.6 L153.5,888.4 L154.0,890.4 L153.9,892.4 L153.7,894.9 L153.8,897.6 L154.1,899.4 L154.0,903.5 L154.3,906.5" fill="none" stroke="#000" stroke-width="1.0" stroke-linejoin="round"/>
<path d="M155.2,818.6 L155.0,820.9 L154.8,823.6 L154.0,827.5 L152.9,830.5 L152.8,833.8 L152.8,836.0 L152.8,837.8 L152.7,841.9 L152.8,845.6 L154.8,848.2 L154.4,851.1 L154.2,853.1 L154.7,855.7 L154.1,857.7 L153.0,860.0 L153.0,863.7 L153.0,867.7 L153.0,870.4 L152.8,874.5 L153.9,876.7 L153.8,880.3 L154.0,883.7 L153.4,885.8 L155.5,888.3 L155.0,890.7 L153.4,893.5 L153.9,895.4 L154.0,899.1 L154.8,901.3 L155.1,903.3 L155.0,907.4" fill="none" stroke="#000" stroke-width="1.0" stroke-linejoin="round"/>
<path d="M153.2,818.3 L153.2,821.3 L154.3,823.2 L157.0,827.4 L156.3,829.8 L157.6,832.8 L157.8,835.0 L157.5,837.7 L155.8,839.6 L155.7,841.8 L155.3,843.8 L153.3,846.5 L152.9,849.4 L152.9,851.5 L153.1,854.0 L153.6,856.0 L154.0,858.7 L155.4,861.3 L155.2,865.4 L154.6,867.6 L153.7,870.8 L153.8,872.9 L153.7,875.9 L153.0,878.4 L152.6,882.4 L154.8,885.8 L154.5,887.6 L154.7,891.3 L156.2,894.1 L156.1,897.8 L155.6,901.1 L155.3,905.3 L155.0,907.8" fill="none" stroke="#000" stroke-width="1.0" stroke-linejoin="round"/>
<path d="M157.7,816.1 L156.0,819.0 L157.2,822.9 L157.9,826.4 L157.3,828.5 L155.8,831.1 L154.6,834.7 L153.3,838.0 L152.7,841.2 L152.8,843.0 L152.8,845.0 L153.3,848.2 L152.9,851.7 L152.9,855.0 L153.0,858.4 L153.0,860.4 L153.0,863.2 L153.4,866.6 L154.0,870.7 L154.5,872.7 L153.7,875.4 L153.8,879.1 L154.1,883.3 L154.4,886.6 L154.9,889.4 L155.4,892.5 L155.3,895.9 L153.8,898.7 L153.6,900.8 L154.1,904.6 L154.4,906.7" fill="none" stroke="#000" stroke-width="1.0" stroke-linejoin="round"/>
<path d="M155.9,818.6 L156.8,822.0 L156.3,824.6 L156.5,826.8 L156.5,829.1 L155.8,831.4 L155.9,834.3 L156.4,837.9 L156.0,840.2 L155.8,843.3 L155.2,846.7 L155.4,848.6 L155.0,851.1 L155.2,853.9 L156.3,856.9 L156.6,861.0 L154.9,864.5 L155.0,868.6 L155.6,872.6 L155.3,876.7 L155.1,880.3 L155.7,883.3 L155.9,886.8 L156.4,888.8 L156.4,890.7 L156.4,892.6 L154.7,894.8 L155.8,897.1 L156.0,899.0 L155.8,900.8 L155.5,904.2 L155.3,906.2 L155.1,908.7" fill="none" stroke="#000" stroke-width="1.0" stroke-linejoin="round"/>
<path d="M156.9,816.7 L156.9,819.4 L156.9,823.3 L158.2,827.1 L157.6,830.0 L157.8,832.5 L157.8,835.3 L157.5,839.4 L157.4,842.9 L157.2,846.3 L157.0,848.5 L155.1,851.5 L153.8,855.2 L154.6,857.5 L155.7,859.4 L156.3,863.3 L156.1,867.2 L155.8,869.2 L155.6,872.7 L154.6,874.5 L154.7,878.2 L155.6,880.9 L155.9,884.0 L155.4,886.8 L155.0,889.8 L153.8,892.9 L153.4,896.6 L153.6,898.5 L153.5,901.3 L153.7,903.6 L154.5,906.5 L154.8,908.5" fill="none" stroke="#000" stroke-width="1.0" stroke-linejoin="round"/>
<path d="M62.5,806.4 L75.0,806.2 L95.0,806.0 L115.0,805.8 L135.0,805.2 L142.0,804.5 L142.0,810.0 L135.0,809.4 L115.0,808.8 L95.0,808.6 L75.0,808.4 L62.5,808.2 Z" fill="#000" stroke="#000" stroke-width="0.6" stroke-linejoin="round"/>
<path d="M63.6,809.4 L67.7,806.9 L72.4,808.1 L77.2,808.4 L81.1,808.9 L84.5,808.6 L87.3,807.0 L89.4,806.5 L92.1,805.9 L96.4,808.8 L98.9,809.1 L102.7,808.4 L105.2,811.1 L107.9,811.1 L110.6,811.2 L113.5,810.9 L118.3,808.7 L121.0,808.2 L125.7,806.6 L130.3,802.6 L133.2,802.1 L135.8,802.8 L138.0,802.0 L140.1,804.1 L144.1,803.3 L148.5,804.5" fill="none" stroke="#000" stroke-width="1.0" stroke-linejoin="round"/>
<path d="M62.6,807.0 L67.5,806.6 L69.6,806.6 L71.8,804.3 L76.1,803.8 L78.2,804.9 L80.5,806.1 L83.1,808.9 L87.3,810.7 L90.4,809.4 L93.5,807.2 L95.9,806.8 L100.1,807.6 L102.3,805.0 L107.0,806.0 L110.8,806.7 L115.5,804.8 L119.1,807.7 L122.1,807.3 L124.4,808.2 L126.9,806.2 L129.5,802.2 L131.7,804.1 L135.0,803.9 L137.7,801.9 L141.1,801.8 L144.4,805.4 L146.6,806.8" fill="none" stroke="#000" stroke-width="1.0" stroke-linejoin="round"/>
<path d="M64.2,804.6 L68.1,804.0 L72.4,804.8 L74.9,805.6 L79.4,805.1 L84.3,806.3 L88.8,807.7 L92.2,807.5 L96.4,806.3 L99.6,806.5 L102.1,803.4 L106.9,806.3 L110.7,804.9 L113.1,804.9 L116.0,805.5 L119.1,802.5 L123.4,802.7 L127.3,802.2 L131.6,802.1 L134.4,804.0 L137.9,804.3 L140.8,801.8 L145.6,801.7 L147.7,801.6" fill="none" stroke="#000" stroke-width="1.0" stroke-linejoin="round"/>
<path d="M62.5,806.3 L66.4,806.8 L70.7,805.8 L74.9,807.1 L79.3,805.7 L83.8,807.6 L87.8,810.7 L91.4,810.3 L95.0,810.9 L99.7,811.0 L103.1,810.2 L107.3,808.1 L109.9,808.5 L113.8,806.6 L117.1,804.7 L121.0,802.7 L125.1,803.5 L128.4,803.6 L132.4,804.0 L136.2,806.5 L138.4,805.2 L140.7,805.4 L143.2,804.9 L145.8,805.9 L148.0,804.2" fill="none" stroke="#000" stroke-width="1.0" stroke-linejoin="round"/>
<path d="M63.5,805.8 L68.1,806.9 L71.0,806.9 L74.2,808.5 L77.4,810.0 L79.6,809.6 L83.2,809.3 L86.3,806.5 L90.6,804.9 L93.9,805.6 L97.1,803.7 L99.5,803.1 L104.3,802.9 L109.1,802.8 L113.7,802.6 L115.8,804.1 L119.7,805.3 L122.2,803.0 L125.3,802.3 L128.6,802.4 L133.4,803.6 L136.6,807.2 L140.4,806.3 L143.2,808.3 L146.5,808.1 L149.5,810.2" fill="none" stroke="#000" stroke-width="1.0" stroke-linejoin="round"/>
<path d="M63.1,804.8 L67.0,804.0 L71.3,804.2 L75.7,805.6 L78.5,805.6 L83.3,805.7 L86.1,804.8 L88.6,805.8 L92.4,805.7 L95.9,804.5 L100.1,803.0 L102.5,803.1 L106.1,802.9 L109.1,802.8 L112.5,804.4 L115.6,804.3 L117.8,802.5 L120.6,802.4 L125.2,803.3 L128.9,806.0 L132.2,806.3 L135.9,805.6 L139.3,803.2 L144.0,801.8 L148.5,802.8" fill="none" stroke="#000" stroke-width="1.0" stroke-linejoin="round"/>
<path d="M62.6,810.2 L66.6,810.3 L69.9,809.9 L74.6,810.5 L77.1,809.0 L80.6,809.3 L83.6,810.2 L88.0,810.7 L90.3,810.8 L94.6,810.9 L98.6,810.9 L103.4,811.0 L108.3,811.0 L112.7,810.6 L115.5,808.4 L119.6,805.4 L122.0,804.4 L124.6,807.8 L128.4,807.0 L132.2,807.5 L134.4,808.7 L136.7,809.8 L139.0,807.3 L143.6,805.9 L146.0,804.5 L149.8,805.1" fill="none" stroke="#000" stroke-width="1.0" stroke-linejoin="round"/>
<path d="M64.5,808.0 L67.0,808.6 L70.9,806.1 L74.6,806.0 L78.4,805.8 L81.2,807.3 L85.4,806.6 L88.2,806.5 L91.3,806.4 L95.4,805.5 L99.3,807.2 L101.7,808.3 L104.1,807.4 L108.7,806.8 L112.1,805.6 L114.3,808.0 L118.5,808.8 L123.2,809.1 L127.2,809.3 L132.1,810.2 L136.0,810.6 L139.9,809.8 L143.0,810.0 L146.8,811.6 L149.9,811.0" fill="none" stroke="#000" stroke-width="1.0" stroke-linejoin="round"/>
<path d="M168,804.5 L176,806.5 L185.7,805.3 L202.6,805.3 L194.5,809.9" fill="none" stroke="#000" stroke-width="1.1"/>
<path d="M167,808 L178,810 L188.1,813.3 L193,810 L197,808.3 L212,807.8 L221.9,806.6 L226.7,805.4 L237.1,805.5 L244.4,806.2 L248.4,805.4 L254,808.7" fill="none" stroke="#000" stroke-width="1.1"/>
<path d="M170,807 L180,808.5 L190,809.5 L197,811.6 L215,812 L221.9,812.3 L229.1,809.9 L238.7,809.9 L244.4,810.1 L252.4,812.3" fill="none" stroke="#000" stroke-width="1.1"/>
<path d="M198,808.2 L206,807.6" fill="none" stroke="#000" stroke-width="2"/>
<path d="M222,807.5 L235,806.3" fill="none" stroke="#000" stroke-width="1.6"/>
<path d="M244,802.6 C244.5,800.4 249,800.2 249.2,802 C248.8,803.8 245.5,804 244,802.6 Z" fill="none" stroke="#000" stroke-width="1.0"/>
<path d="M246.5,805.6 L251,806.2 L254.2,808.4 L251.5,809.8 L247.5,808.6 Z" fill="#000"/>
<path d="M500.6,792.8 V695.6 H526.8 V792.8 M500.6,819.4 V917.2 H526.8 V819.4" fill="none" stroke="#3a3a3a" stroke-width="1.1"/>
<line x1="400.55" y1="792.8" x2="500.6" y2="792.8" stroke="#6e6e6e" stroke-width="1.5" stroke-dasharray="6.0 2.550"/>
<line x1="400.55" y1="819.4" x2="500.6" y2="819.4" stroke="#6e6e6e" stroke-width="1.5" stroke-dasharray="6.0 2.550"/>
<line x1="625.95" y1="792.8" x2="526.8" y2="792.8" stroke="#6e6e6e" stroke-width="1.5" stroke-dasharray="6.0 2.468"/>
<line x1="625.95" y1="819.4" x2="526.8" y2="819.4" stroke="#6e6e6e" stroke-width="1.5" stroke-dasharray="6.0 2.468"/>
<line x1="401.3" y1="792.8" x2="401.3" y2="819.4" stroke="#6e6e6e" stroke-width="1.5" stroke-dasharray="6.8 3.100"/>
<line x1="625.2" y1="792.8" x2="625.2" y2="819.4" stroke="#6e6e6e" stroke-width="1.5" stroke-dasharray="6.8 3.100"/>
<path d="M511.3,704.6 L511.1,708.0 L510.4,715.0 L510.3,730.0 L510.5,745.0 L511.0,755.0 L511.0,765.0 L510.8,775.0 L510.6,785.0 L510.3,790.0 L509.6,794.0 L514.8,794.0 L514.0,790.0 L513.5,785.0 L513.3,775.0 L513.3,765.0 L513.4,755.0 L513.2,745.0 L513.5,730.0 L513.6,715.0 L513.5,708.0 L513.6,704.6 Z" fill="#3a3a3a" stroke="#3a3a3a" stroke-width="0.6" stroke-linejoin="round"/>
<path d="M512.3,705.7 L513.3,708.9 L512.7,712.4 L512.3,715.9 L512.5,719.1 L511.4,722.9 L511.6,725.8 L512.0,729.3 L511.3,731.5 L510.5,733.5 L511.9,737.2 L512.2,741.0 L512.0,743.3 L511.0,745.4 L512.1,748.8 L513.2,752.3 L513.7,756.4 L513.7,759.7 L513.7,763.0 L513.6,766.8 L513.6,769.3 L513.6,772.1 L513.0,775.5 L513.1,777.3 L512.0,779.5 L512.3,782.3 L510.9,785.9 L510.3,789.2 L510.3,791.8 L510.4,793.7" fill="none" stroke="#3a3a3a" stroke-width="0.9" stroke-linejoin="round"/>
<path d="M513.6,707.2 L513.9,709.3 L513.2,713.3 L512.1,716.5 L513.3,719.3 L511.6,721.7 L511.5,724.6 L510.3,727.3 L510.9,730.2 L510.8,732.5 L510.5,736.0 L512.1,738.6 L511.0,742.6 L512.0,746.2 L512.2,749.7 L512.7,751.6 L512.6,753.8 L512.5,756.2 L512.7,759.4 L513.2,761.7 L513.7,765.1 L513.6,768.4 L513.0,771.9 L512.7,776.0 L512.8,780.0 L512.7,783.2 L512.2,787.2 L511.4,790.6 L511.0,792.8" fill="none" stroke="#3a3a3a" stroke-width="0.9" stroke-linejoin="round"/>
<path d="M511.8,706.1 L510.9,708.8 L510.3,712.7 L510.9,715.3 L512.2,718.6 L512.6,722.3 L512.1,725.6 L512.4,728.1 L511.3,730.5 L510.8,733.5 L510.5,735.7 L511.3,738.6 L511.7,742.7 L512.9,746.5 L513.4,750.0 L513.7,753.5 L513.7,755.8 L513.4,759.5 L513.7,761.7 L513.6,765.6 L513.6,768.6 L513.2,770.8 L512.6,772.6 L512.5,776.4 L512.7,780.1 L512.4,783.6 L512.8,786.7 L512.6,789.9 L511.5,793.0" fill="none" stroke="#3a3a3a" stroke-width="0.9" stroke-linejoin="round"/>
<path d="M511.6,705.2 L510.8,708.9 L510.3,712.7 L510.5,714.8 L511.8,717.5 L512.4,721.7 L512.4,725.1 L511.6,728.8 L511.1,730.8 L511.6,734.7 L511.8,736.9 L512.1,740.8 L512.5,743.3 L512.3,747.1 L513.6,749.4 L512.7,753.3 L513.7,756.8 L512.9,760.9 L513.5,763.3 L512.6,766.0 L513.1,768.2 L512.7,771.2 L512.2,775.2 L512.3,778.6 L512.1,781.7 L513.3,785.7 L514.0,788.1 L512.9,791.1 L512.6,793.4" fill="none" stroke="#3a3a3a" stroke-width="0.9" stroke-linejoin="round"/>
<path d="M511.3,707.2 L512.2,709.2 L510.4,711.7 L510.1,714.5 L510.0,716.3 L510.2,719.7 L512.0,722.5 L510.9,726.5 L511.2,728.4 L511.0,730.7 L511.7,732.9 L512.5,735.7 L512.9,739.8 L511.5,743.7 L510.3,747.3 L510.4,750.6 L510.7,754.5 L511.0,758.5 L510.6,762.2 L511.6,766.3 L511.4,768.2 L510.7,772.2 L510.4,775.1 L511.3,777.5 L511.5,780.8 L512.8,782.8 L512.1,786.7 L511.5,789.8 L512.1,792.5" fill="none" stroke="#3a3a3a" stroke-width="0.9" stroke-linejoin="round"/>
<path d="M511.8,789 L514.5,795.5 L518.5,798.5 L522,801.5 L520,805.5 L515.5,808.5 L514,815 L509.5,815 L508.5,809 L504.5,806.5 L502.5,803 L505.5,799.5 L509.2,795.5 Z" fill="#3a3a3a"/>
<path d="M499.1,805.8 L501.6,806.8 L504.3,805.5 L505.7,805.9 L507.8,804.4 L510.1,806.0 L512.7,805.3 L515.5,805.6 L518.3,805.3 L520.5,805.6 L522.7,805.8 L524.9,804.3" fill="none" stroke="#3a3a3a" stroke-width="0.9" stroke-linejoin="round"/>
<path d="M500.1,803.4 L502.9,804.4 L504.8,805.4 L506.3,804.6 L509.1,802.3 L511.6,801.0 L513.1,800.6 L516.0,800.6 L517.9,800.6 L519.5,800.6 L522.3,800.7 L524.7,800.6 L526.7,801.2" fill="none" stroke="#3a3a3a" stroke-width="0.9" stroke-linejoin="round"/>
<path d="M500.7,802.7 L502.8,803.2 L505.4,800.6 L506.8,802.1 L508.3,801.8 L509.8,803.2 L511.4,804.0 L514.2,805.1 L516.3,806.0 L517.6,807.0 L520.7,807.0 L522.2,806.7 L525.1,803.3" fill="none" stroke="#3a3a3a" stroke-width="0.9" stroke-linejoin="round"/>
<path d="M500.0,802.6 L502.6,802.6 L505.4,803.3 L507.9,802.4 L509.4,803.1 L511.5,805.7 L514.0,804.9 L516.3,804.5 L519.3,804.0 L520.9,804.9 L522.5,805.7 L525.6,804.2" fill="none" stroke="#3a3a3a" stroke-width="0.9" stroke-linejoin="round"/>
<path d="M501.9,802.3 L503.9,803.0 L506.9,803.2 L508.4,804.5 L509.7,803.0 L511.9,802.5 L514.9,804.3 L517.2,802.2 L519.0,803.5 L520.6,804.9 L521.9,804.7 L524.3,804.2 L526.0,804.0" fill="none" stroke="#3a3a3a" stroke-width="0.9" stroke-linejoin="round"/>
<path d="M500.0,802.4 L501.5,800.8 L503.2,800.6 L504.6,800.6 L506.4,802.3 L508.9,803.9 L510.4,804.7 L512.2,804.5 L514.6,803.2 L516.4,802.8 L518.6,802.0 L520.7,803.6 L523.0,802.6 L525.8,801.2" fill="none" stroke="#3a3a3a" stroke-width="0.9" stroke-linejoin="round"/>
<path d="M510.0,814.0 L510.0,820.0 L510.2,830.0 L510.0,840.0 L509.9,850.0 L509.7,860.0 L509.8,870.0 L509.9,880.0 L509.6,888.0 L508.6,894.0 L508.2,898.0 L510.3,901.0 L512.5,903.5 L514.5,903.5 L514.7,901.0 L515.6,898.0 L515.0,894.0 L513.4,888.0 L513.0,880.0 L513.2,870.0 L513.3,860.0 L513.2,850.0 L513.0,840.0 L513.2,830.0 L513.3,820.0 L513.6,814.0 Z" fill="#3a3a3a" stroke="#3a3a3a" stroke-width="0.6" stroke-linejoin="round"/>
<path d="M509.7,815.9 L510.2,819.5 L510.5,822.9 L510.4,825.7 L510.6,827.6 L511.5,829.5 L510.9,831.7 L510.1,834.1 L510.0,837.3 L509.9,841.0 L509.6,844.5 L510.0,848.6 L510.3,851.2 L510.4,855.0 L510.9,858.3 L509.5,861.4 L509.4,865.5 L510.2,869.3 L510.9,872.6 L510.1,876.1 L510.2,878.0 L510.8,880.0 L511.3,882.3 L511.7,885.7 L511.3,888.3 L512.0,890.8 L511.1,894.8 L509.4,897.0 L511.2,900.6" fill="none" stroke="#3a3a3a" stroke-width="0.9" stroke-linejoin="round"/>
<path d="M512.7,815.9 L513.3,819.4 L512.2,821.7 L511.9,823.6 L512.5,825.9 L512.9,830.0 L512.4,833.3 L513.1,836.1 L512.6,838.5 L512.0,840.9 L511.8,844.1 L511.4,848.1 L511.8,852.3 L512.0,855.3 L512.1,857.3 L512.3,860.7 L511.5,862.6 L512.5,865.3 L512.4,869.5 L513.5,873.3 L513.4,876.8 L513.2,879.8 L513.4,881.9 L511.6,884.8 L512.3,888.7 L511.9,891.1 L512.1,895.1 L511.8,899.0 L513.7,902.2" fill="none" stroke="#3a3a3a" stroke-width="0.9" stroke-linejoin="round"/>
<path d="M512.1,816.3 L511.0,818.1 L512.8,820.7 L513.0,824.6 L512.9,828.4 L513.1,832.3 L513.4,836.4 L513.4,838.3 L513.4,841.9 L513.0,844.9 L512.9,848.0 L513.6,850.8 L512.3,853.1 L512.0,855.4 L513.2,858.0 L513.2,860.8 L513.6,863.9 L513.6,866.5 L513.6,869.7 L513.5,871.6 L513.5,875.0 L513.4,878.8 L513.4,880.8 L513.5,883.1 L513.6,885.2 L513.3,888.2 L514.4,891.8 L514.1,893.9 L512.8,896.7 L513.7,900.3" fill="none" stroke="#3a3a3a" stroke-width="0.9" stroke-linejoin="round"/>
<path d="M509.7,817.0 L510.1,820.8 L510.4,823.2 L511.3,826.0 L511.3,828.5 L512.9,831.4 L512.6,835.2 L512.5,839.4 L513.4,843.2 L513.1,847.1 L512.6,849.3 L512.7,852.0 L511.0,854.0 L512.6,856.4 L511.8,860.1 L512.0,864.2 L510.8,868.4 L510.3,870.5 L511.4,873.1 L511.2,876.2 L512.1,879.8 L512.5,882.8 L513.7,886.6 L513.9,888.6 L513.1,890.8 L512.3,893.2 L513.3,895.3 L512.8,898.5 L512.3,901.8" fill="none" stroke="#3a3a3a" stroke-width="0.9" stroke-linejoin="round"/>
<path d="M511.0,816.8 L511.0,820.3 L511.9,823.7 L511.3,826.3 L512.5,828.2 L513.5,831.1 L513.5,833.1 L513.3,835.4 L513.4,839.3 L513.1,843.2 L513.5,847.0 L511.7,850.5 L510.2,853.9 L510.4,855.7 L509.7,859.1 L510.0,863.2 L510.3,865.2 L510.2,868.3 L511.3,871.9 L510.9,874.2 L510.4,877.1 L510.6,881.1 L510.3,883.9 L511.7,886.4 L511.9,889.7 L512.0,892.1 L510.3,895.0 L513.1,896.8 L514.3,900.8" fill="none" stroke="#3a3a3a" stroke-width="0.9" stroke-linejoin="round"/>
<path d="M459.4,804.2 L465.4,805.3 L468,806.2 L470.3,807.8 L471.5,809.2 L474.3,807.4 L483.1,806.2 L488.7,805.8 L495.2,803.8 L500,803.8 L504,803" fill="none" stroke="#3a3a3a" stroke-width="1.8" stroke-linejoin="round"/>
<path d="M483,805.2 C485,803.8 489,803.8 490.5,805 C489,806.5 485,806.8 483,805.2 Z" fill="none" stroke="#3a3a3a" stroke-width="1.0"/>
<path d="M492,805 L497,804.2 L503,805.5" fill="none" stroke="#3a3a3a" stroke-width="1.6"/>
<path d="M524,802.5 L527,803 L536.5,805 L545,805.6 L547.8,805 L555,805.8 L561.4,807 L563.4,804.4 L576.2,803.3 L582.6,802.5 L585.8,804.1 L600.3,803.8" fill="none" stroke="#3a3a3a" stroke-width="1.1" stroke-linejoin="round"/>
<path d="M536.5,805.6 L545,806.3" fill="none" stroke="#3a3a3a" stroke-width="2.4"/>
<path d="M522,806 L530,804.8 L536,805.4" fill="none" stroke="#3a3a3a" stroke-width="1.6"/>
<path d="M558.5,806.5 L573,807.3 L589,809.2 L597.1,808.6 L601.9,806.2" fill="none" stroke="#3a3a3a" stroke-width="1.0" stroke-linejoin="round"/>
<path d="M600.5,805 C600.5,802.6 607.8,802.4 608,804.8 C607.8,807.2 600.6,807.2 600.5,805 Z" fill="none" stroke="#3a3a3a" stroke-width="1.1"/>
<text x="48.3" y="786.2" font-size="14.6" font-weight="normal" text-anchor="start" fill="#000" textLength="36.8" lengthAdjust="spacingAndGlyphs">Open</text>
<text x="133.9" y="883.2" font-size="15.6" font-weight="normal" text-anchor="middle" fill="#000" transform="rotate(-90 133.9 883.2)" textLength="45.4" lengthAdjust="spacingAndGlyphs">Closed</text>
<text x="407.1" y="784.9" font-size="14.6" font-weight="normal" text-anchor="start" fill="#000" textLength="37.4" lengthAdjust="spacingAndGlyphs">Open</text>
<text x="492.6" y="880.4" font-size="15.6" font-weight="normal" text-anchor="middle" fill="#000" transform="rotate(-90 492.6 880.4)" textLength="45.6" lengthAdjust="spacingAndGlyphs">Closed</text>
<line x1="216.20000000000002" y1="714.45" x2="224.9" y2="714.45" stroke="#000" stroke-width="2.1"/>
<line x1="220.55" y1="710.1" x2="220.55" y2="718.8000000000001" stroke="#000" stroke-width="2.1"/>
<line x1="227.5" y1="722.4" x2="233.2" y2="706.3" stroke="#000" stroke-width="2.3"/>
<line x1="235.1" y1="714.45" x2="243.79999999999998" y2="714.45" stroke="#000" stroke-width="2.1"/>
<line x1="239.45" y1="710.1" x2="239.45" y2="718.8000000000001" stroke="#000" stroke-width="2.1"/>
<path d="M220.70,731.50 Q217.70,740.05 220.70,748.60" fill="none" stroke="#000" stroke-width="2.5"/>
<path d="M239.50,731.50 Q242.70,740.05 239.50,748.60" fill="none" stroke="#000" stroke-width="2.5"/>
<circle cx="228.7" cy="742.8" r="3.9" fill="none" stroke="#000" stroke-width="1.25"/>
<line x1="230.49" y1="739.34" x2="234.8" y2="731.0" stroke="#000" stroke-width="1.25"/>
<path d="M229.0,733.8 L234.8,731.0 L235.6,737.6" fill="none" stroke="#000" stroke-width="1.25" stroke-linejoin="miter"/>
<path d="M234.8,731.0 L231.61,732.54 L235.24,734.63 Z" fill="#000"/>
<line x1="583.2" y1="710.4" x2="588.0" y2="710.4" stroke="#000" stroke-width="1.9"/>
<line x1="590.3" y1="717.4" x2="596.1" y2="701.6" stroke="#000" stroke-width="2.3"/>
<line x1="598.2" y1="710.4" x2="603.0" y2="710.4" stroke="#000" stroke-width="1.9"/>
<path d="M583.60,726.80 Q580.60,735.20 583.60,743.60" fill="none" stroke="#000" stroke-width="2.5"/>
<path d="M602.40,726.80 Q605.80,735.20 602.40,743.60" fill="none" stroke="#000" stroke-width="2.5"/>
<circle cx="591.8" cy="737.7" r="3.8" fill="none" stroke="#000" stroke-width="1.25"/>
<line x1="593.46" y1="734.28" x2="597.6" y2="725.8" stroke="#000" stroke-width="1.25"/>
<path d="M591.8,729.4 L597.6,725.8 L598.5,732.9" fill="none" stroke="#000" stroke-width="1.25" stroke-linejoin="miter"/>
<path d="M597.6,725.8 L594.41,727.78 L598.10,729.70 Z" fill="#000"/>
</svg>
</body></html>
